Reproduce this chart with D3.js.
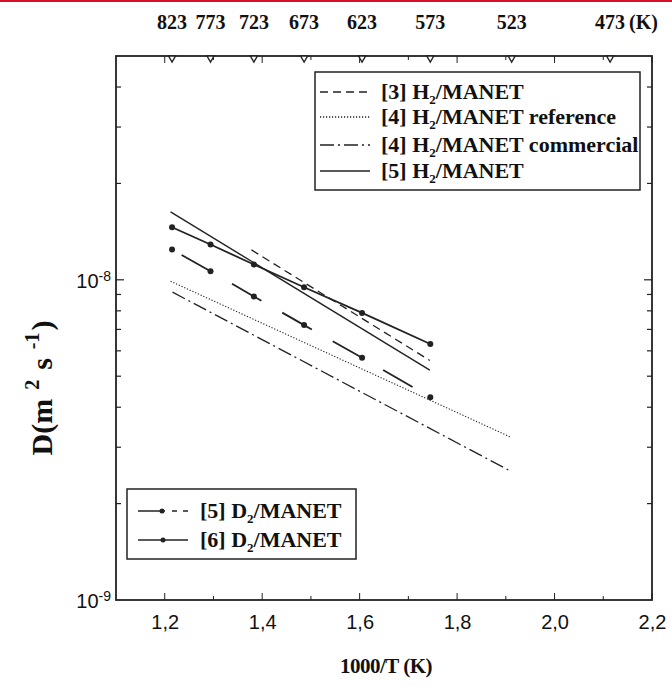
<!DOCTYPE html>
<html><head><meta charset="utf-8">
<script src="https://cdn.jsdelivr.net/npm/d3@7"></script>
<style>body{margin:0;background:#fff}</style>
</head><body><svg id="c" width="672" height="686"></svg>
<script>
// ---- data ----
const xTickValues = [1.2, 1.4, 1.6, 1.8, 2.0, 2.2];
const xMinorValues = [1.3, 1.5, 1.7, 1.9, 2.1];
const tempLabels = [823, 773, 723, 673, 623, 573, 523, 473];
const tempX = [1.215, 1.294, 1.383, 1.486, 1.605, 1.745, 1.912, 2.114];
const yMinorValues = [2e-9,3e-9,4e-9,5e-9,6e-9,7e-9,8e-9,9e-9,2e-8,3e-8,4e-8];

const h3X = [1.378, 1.744], h3Y = [1.24e-8, 5.6e-9];            // [3] H2/MANET
const h4refX = [1.212, 1.911], h4refY = [9.9e-9, 3.22e-9];       // [4] reference
const h4comX = [1.216, 1.911], h4comY = [9.15e-9, 2.52e-9];      // [4] commercial
const h5X = [1.212, 1.744], h5Y = [1.63e-8, 5.22e-9];            // [5] H2/MANET
const dX = [1.215, 1.294, 1.383, 1.486, 1.605, 1.745];
const d5Y = [1.243e-8, 1.064e-8, 0.887e-8, 0.722e-8, 0.571e-8, 0.430e-8]; // [5] D2
const d6Y = [1.459e-8, 1.289e-8, 1.116e-8, 0.948e-8, 0.788e-8, 0.630e-8]; // [6] D2

const legend1 = [
  {ref:"[3]", tail:"", dash:"8,5"},
  {ref:"[4]", tail:" reference", dash:"1.2,1.8"},
  {ref:"[4]", tail:" commercial", dash:"14,4,2,4"},
  {ref:"[5]", tail:"", dash:null}
];
const legend2 = [
  {ref:"[5]", dash:"dashdot"},
  {ref:"[6]", dash:null}
];

// ---- layout ----
const svg = d3.select("#c");
const L = 116, R = 652, T = 56, B = 600;
const x = d3.scaleLinear().domain([1.1, 2.2]).range([L, R]);
const y = d3.scaleLog().domain([1e-9, 5e-8]).range([B, T]);
const ink = "#222";
const serif = "'Liberation Serif','Times New Roman',serif";
const sans = "'Liberation Sans',Arial,sans-serif";

// red line at very top
svg.append("rect").attr("x",0).attr("y",0).attr("width",672).attr("height",2).attr("fill","#d8102a");

// frame
svg.append("rect").attr("x",L).attr("y",T).attr("width",R-L).attr("height",B-T)
  .attr("fill","none").attr("stroke",ink).attr("stroke-width",1.8);

// bottom axis
const gx = svg.append("g").attr("transform",`translate(0,${B})`)
  .call(d3.axisBottom(x).tickValues(xTickValues).tickSize(0).tickPadding(15)
    .tickFormat(d=>d3.format(".1f")(d).replace(".",",")));
gx.select(".domain").remove();
gx.selectAll("text").attr("font-family",sans).attr("font-size",20).attr("fill","#111");

// x ticks inward bottom & top
const xt = [...xTickValues.map(v=>({v,len:7})), ...xMinorValues.map(v=>({v,len:4}))];
svg.append("g").selectAll("line").data(xt).join("line")
  .attr("x1",d=>x(d.v)).attr("x2",d=>x(d.v)).attr("y1",B).attr("y2",d=>B-d.len)
  .attr("stroke",ink).attr("stroke-width",1);
svg.append("g").selectAll("line").data(xt).join("line")
  .attr("x1",d=>x(d.v)).attr("x2",d=>x(d.v)).attr("y1",T).attr("y2",d=>T+d.len)
  .attr("stroke",ink).attr("stroke-width",1);

// y ticks inward left & right
const yt = [{v:1e-8,len:8}, ...yMinorValues.map(v=>({v,len:5}))];
svg.append("g").selectAll("line").data(yt).join("line")
  .attr("y1",d=>y(d.v)).attr("y2",d=>y(d.v)).attr("x1",L).attr("x2",d=>L+d.len)
  .attr("stroke",ink).attr("stroke-width",1.2);
svg.append("g").selectAll("line").data(yt).join("line")
  .attr("y1",d=>y(d.v)).attr("y2",d=>y(d.v)).attr("x1",R).attr("x2",d=>R-d.len)
  .attr("stroke",ink).attr("stroke-width",1.2);

// y labels 10^-8, 10^-9
[[1e-8,"-8"],[1e-9,"-9"]].forEach(([v,e])=>{
  const t = svg.append("text").attr("x",L-5).attr("y",y(v)+8).attr("text-anchor","end")
    .attr("font-family",sans).attr("font-size",20).attr("fill","#111");
  t.append("tspan").text("10");
  t.append("tspan").attr("dy",-7).attr("font-size",14).text(e);
});

// top temperature axis: triangles and labels
svg.append("g").selectAll("path").data(tempX).join("path")
  .attr("d",d=>`M${x(d)-3.5},${T} L${x(d)+3.5},${T} L${x(d)},${T+6} Z`)
  .attr("fill","#fff").attr("stroke",ink).attr("stroke-width",1.4);
svg.append("g").selectAll("text").data(tempLabels).join("text")
  .attr("x",(d,i)=>x(tempX[i])).attr("y",29).attr("text-anchor","middle")
  .attr("font-family",serif).attr("font-weight","bold").attr("font-size",20).attr("fill","#111")
  .text(d=>d);
svg.append("text").attr("x",x(tempX[tempX.length-1])+19).attr("y",29)
  .attr("font-family",serif).attr("font-weight","bold").attr("font-size",20).attr("fill","#111").text("(K)");

// axis titles
svg.append("text").attr("x",386).attr("y",673).attr("text-anchor","middle")
  .attr("font-family",serif).attr("font-weight","bold").attr("font-size",21).attr("fill","#111")
  .attr("letter-spacing",-0.5).text("1000/T (K)");
const yl = svg.append("text").attr("transform","translate(52,388) rotate(-90)").attr("text-anchor","middle")
  .attr("font-family",serif).attr("font-weight","bold").attr("font-size",30).attr("fill","#111");
yl.append("tspan").text("D(m");
yl.append("tspan").attr("dx",9).attr("dy",-13).attr("font-size",20).text("2");
yl.append("tspan").attr("dx",10).attr("dy",13).text("s");
yl.append("tspan").attr("dx",9).attr("dy",-13).attr("font-size",20).text("-1");
yl.append("tspan").attr("dx",2).attr("dy",13).text(")");

// lines
const line = d3.line().x(d=>x(d[0])).y(d=>y(d[1]));
const zip = (a,b)=>a.map((v,i)=>[v,b[i]]);
function drawLine(xs, ys, dash, w){
  svg.append("path").datum(zip(xs,ys)).attr("d",line).attr("fill","none")
    .attr("stroke",ink).attr("stroke-width",w||1.4).attr("stroke-dasharray",dash);
}
drawLine(h4refX, h4refY, "1.2,1.8", 1.2);
drawLine(h4comX, h4comY, "14,4,2,4", 1.3);
drawLine(h3X, h3Y, "8,5", 1.3);
drawLine(h5X, h5Y, null, 1.4);
drawLine(dX, d5Y, "0,11,34,13", 1.8);
drawLine(dX, d6Y, null, 1.8);
svg.append("g").selectAll("circle").data(zip(dX,d5Y).concat(zip(dX,d6Y))).join("circle")
  .attr("cx",d=>x(d[0])).attr("cy",d=>y(d[1])).attr("r",3).attr("fill",ink);

// legend 1
const l1 = svg.append("g");
l1.append("rect").attr("x",315).attr("y",72).attr("width",325).attr("height",118)
  .attr("fill","#fff").attr("stroke",ink).attr("stroke-width",1.5);
const rows1 = [92,117,145,171];
legend1.forEach((d,i)=>{
  l1.append("line").attr("x1",320).attr("x2",370).attr("y1",rows1[i]).attr("y2",rows1[i])
    .attr("stroke",ink).attr("stroke-width",1.3).attr("stroke-dasharray",d.dash);
  const t = l1.append("text").attr("x",381).attr("y",rows1[i]+7)
    .attr("font-family",serif).attr("font-weight","bold").attr("font-size",22).attr("fill","#111");
  t.append("tspan").text(d.ref+" H");
  t.append("tspan").attr("dy",5).attr("font-size",13).text("2");
  t.append("tspan").attr("dy",-5).text("/MANET"+d.tail);
});

// legend 2
const l2 = svg.append("g");
l2.append("rect").attr("x",127).attr("y",489).attr("width",229).attr("height",70)
  .attr("fill","#fff").attr("stroke",ink).attr("stroke-width",1.5);
const rows2 = [511,540];
legend2.forEach((d,i)=>{
  const yy = rows2[i];
  if(d.dash){
    l2.append("line").attr("x1",138).attr("x2",165).attr("y1",yy).attr("y2",yy).attr("stroke",ink).attr("stroke-width",1.5);
    l2.append("line").attr("x1",172).attr("x2",177).attr("y1",yy).attr("y2",yy).attr("stroke",ink).attr("stroke-width",1.5);
    l2.append("line").attr("x1",183).attr("x2",188).attr("y1",yy).attr("y2",yy).attr("stroke",ink).attr("stroke-width",1.5);
    l2.append("circle").attr("cx",162).attr("cy",yy).attr("r",2.5).attr("fill",ink);
  } else {
    l2.append("line").attr("x1",138).attr("x2",188).attr("y1",yy).attr("y2",yy).attr("stroke",ink).attr("stroke-width",1.5);
    l2.append("circle").attr("cx",163).attr("cy",yy).attr("r",2.5).attr("fill",ink);
  }
  const t = l2.append("text").attr("x",200).attr("y",yy+7)
    .attr("font-family",serif).attr("font-weight","bold").attr("font-size",22).attr("fill","#111");
  t.append("tspan").text(d.ref+" D");
  t.append("tspan").attr("dy",5).attr("font-size",13).text("2");
  t.append("tspan").attr("dy",-5).text("/MANET");
});
</script></body></html>
